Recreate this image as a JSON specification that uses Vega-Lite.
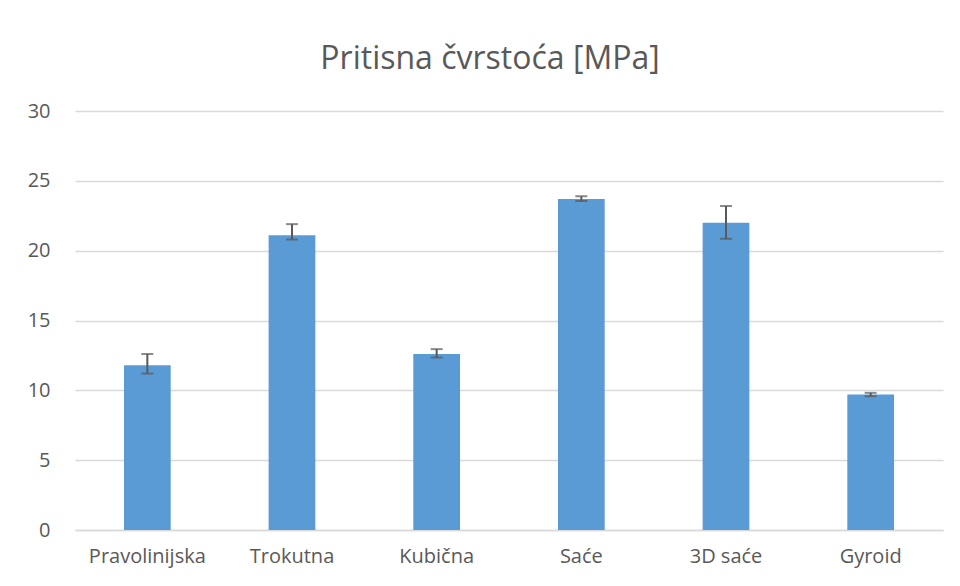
{
  "$schema": "https://vega.github.io/schema/vega-lite/v6.json",
  "width": 868,
  "height": 419,
  "autosize": {"type": "none"},
  "padding": {"left": 75, "top": 111, "right": 17, "bottom": 56},
  "background": "white",
  "title": {
    "text": "Pritisna čvrstoća [MPa]",
    "font": "Open Sans",
    "fontSize": 32,
    "fontWeight": "normal",
    "color": "#595959",
    "anchor": "middle",
    "dx": -19,
    "offset": 25
  },
  "data": {
    "values": [
      {"k": "Pravolinijska", "v": 11.8, "lo": 11.2, "hi": 12.6},
      {"k": "Trokutna", "v": 21.1, "lo": 20.8, "hi": 21.9},
      {"k": "Kubična", "v": 12.6, "lo": 12.35, "hi": 12.95},
      {"k": "Saće", "v": 23.7, "lo": 23.55, "hi": 23.9},
      {"k": "3D saće", "v": 22.0, "lo": 20.85, "hi": 23.2},
      {"k": "Gyroid", "v": 9.7, "lo": 9.58, "hi": 9.82}
    ]
  },
  "encoding": {
    "x": {
      "field": "k",
      "type": "nominal",
      "sort": null,
      "scale": {"paddingInner": 0.677, "paddingOuter": 0.3385},
      "axis": {
        "title": null,
        "labelAngle": 0,
        "labelFont": "Open Sans",
        "labelFontSize": 20,
        "labelColor": "#595959",
        "labelPadding": 16,
        "ticks": false,
        "domainColor": "#d9d9d9",
        "domainWidth": 1.5,
        "grid": false
      }
    }
  },
  "layer": [
    {
      "mark": {"type": "bar", "color": "#5b9bd5"},
      "encoding": {
        "y": {
          "field": "v",
          "type": "quantitative",
          "scale": {"domain": [0, 30], "nice": false},
          "axis": {
            "title": null,
            "values": [0, 5, 10, 15, 20, 25, 30],
            "labelFont": "Open Sans",
            "labelFontSize": 20,
            "labelColor": "#595959",
            "labelPadding": 25,
            "ticks": false,
            "domain": false,
            "gridColor": "#d9d9d9",
            "gridWidth": 1.5
          }
        }
      }
    },
    {
      "mark": {"type": "rule", "color": "#595959", "strokeWidth": 2},
      "encoding": {
        "y": {"field": "lo", "type": "quantitative"},
        "y2": {"field": "hi"}
      }
    },
    {
      "mark": {"type": "tick", "color": "#595959", "size": 12, "thickness": 2, "orient": "horizontal"},
      "encoding": {"y": {"field": "lo", "type": "quantitative"}}
    },
    {
      "mark": {"type": "tick", "color": "#595959", "size": 12, "thickness": 2, "orient": "horizontal"},
      "encoding": {"y": {"field": "hi", "type": "quantitative"}}
    }
  ],
  "config": {"view": {"stroke": null}}
}
